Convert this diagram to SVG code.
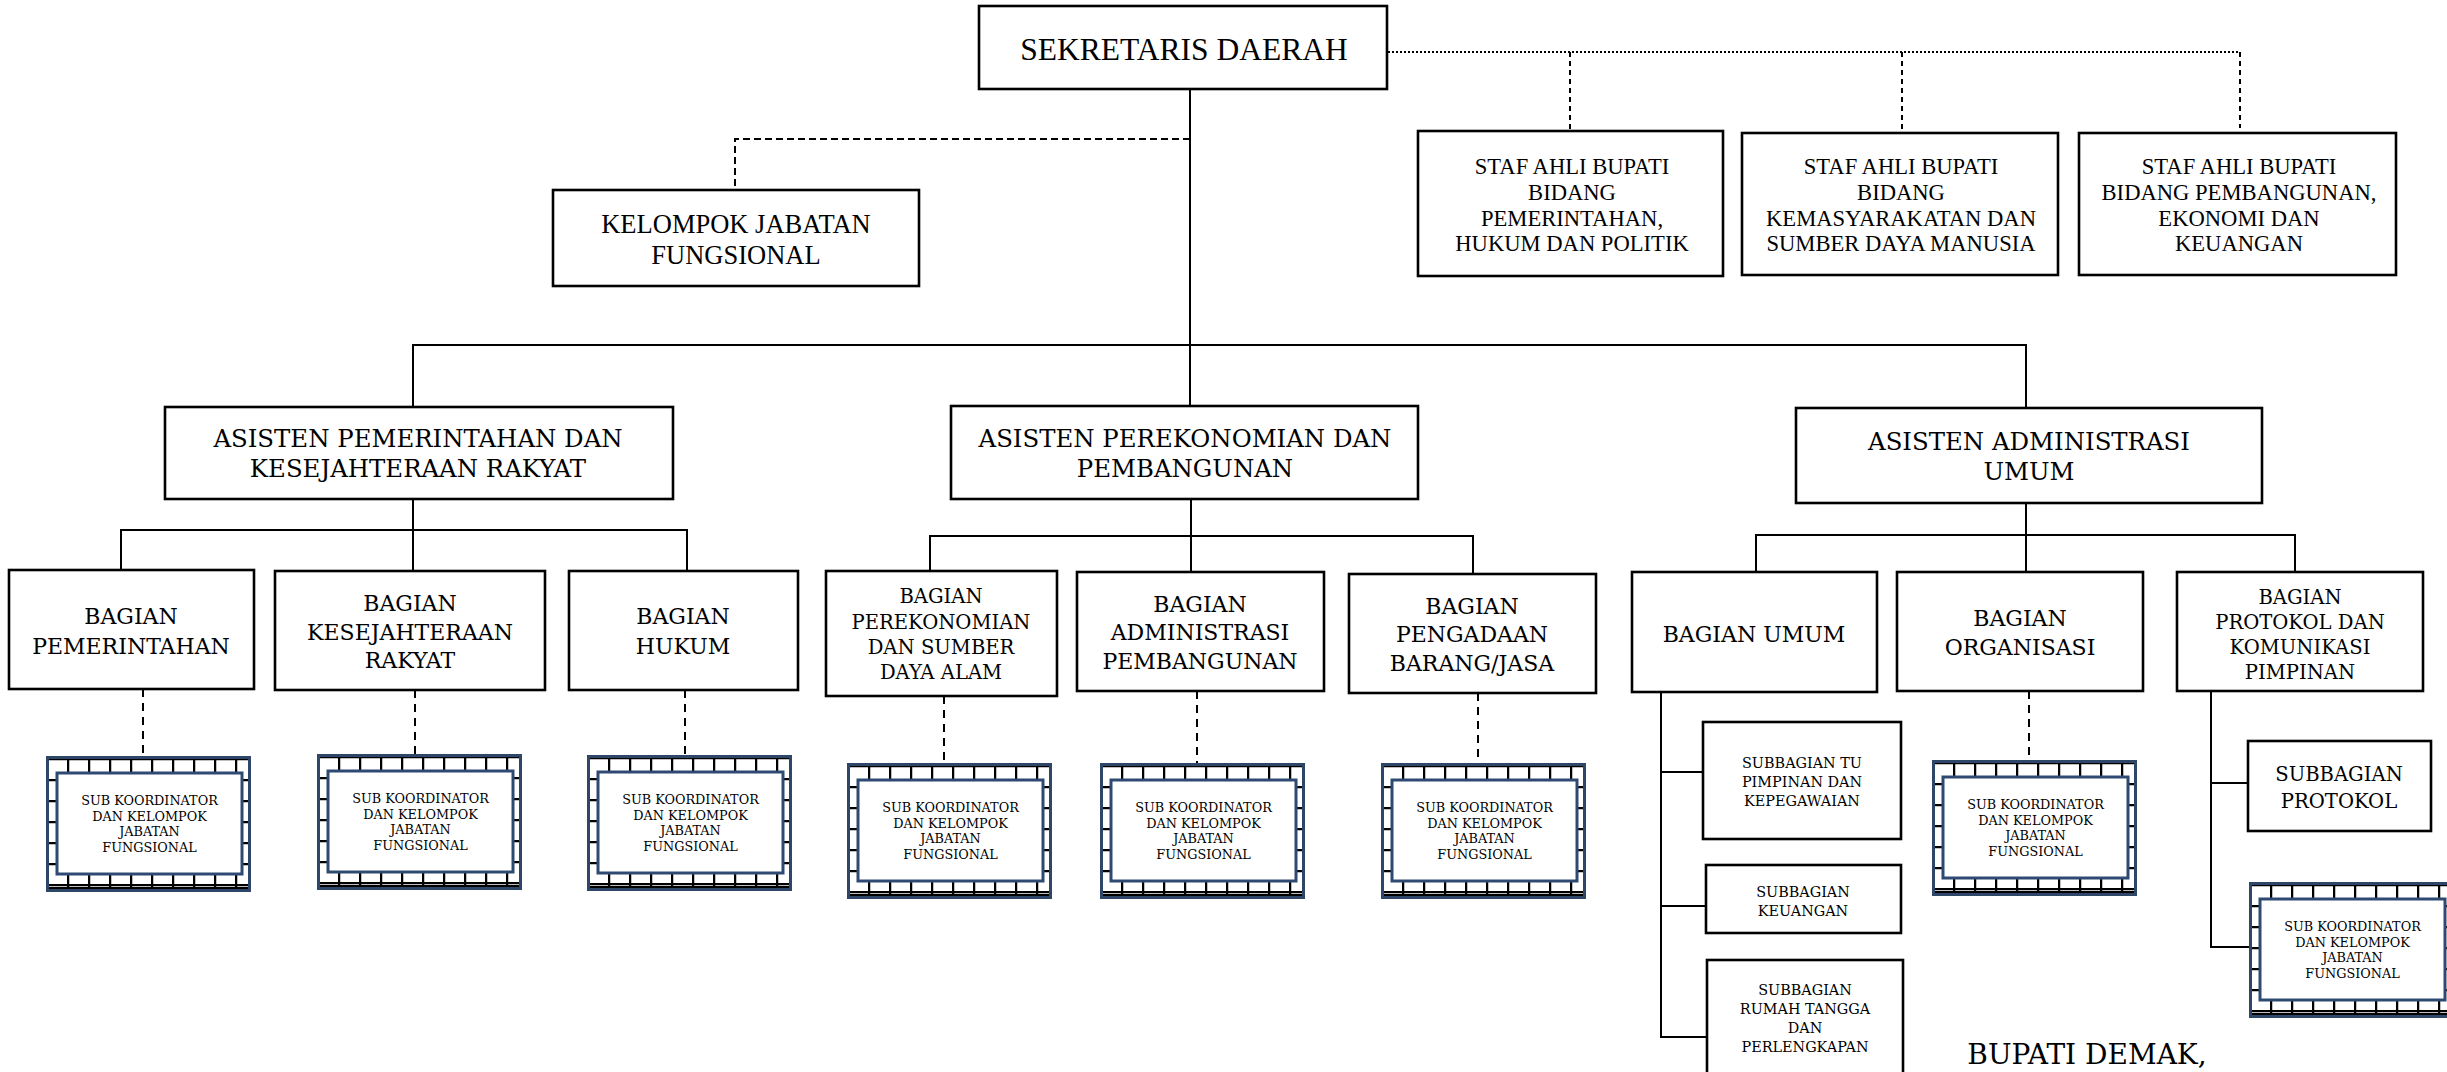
<svg xmlns="http://www.w3.org/2000/svg" xmlns:xlink="http://www.w3.org/1999/xlink" width="2447" height="1072" viewBox="0 0 2447 1072">
<style>
.box{fill:#fff;stroke:#000;stroke-width:2.6}
.ln{stroke:#000;stroke-width:2;fill:none}
.dash{stroke:#000;stroke-width:2;stroke-dasharray:8 6;fill:none}
.dash2{stroke:#000;stroke-width:2;stroke-dasharray:7 4;fill:none}
.dot{stroke:#000;stroke-width:2;stroke-dasharray:2 2;fill:none}
.vd{stroke:#000;stroke-width:2;stroke-dasharray:5 4;fill:none}
.tr{font-family:"Liberation Serif","Times New Roman",serif;text-anchor:middle;fill:#000}
.bk{font-family:"DejaVu Serif","Liberation Serif",serif;text-anchor:middle;fill:#000}
.a{font-size:24.4px}
.b{font-size:22px}
.c{font-size:19.6px}
.s{font-size:14.4px}
.k{font-size:12.8px}
</style>
<defs>
<pattern id="grid" patternUnits="userSpaceOnUse" x="0" y="2" width="21" height="21">
<path d="M1 0V21M0 1H21" stroke="#000" stroke-width="2.5" fill="none"/>
</pattern>
<g id="skframe">
<rect width="205" height="136" fill="#fff"/>
<rect width="205" height="136" fill="url(#grid)"/>
<line x1="0" y1="132" x2="205" y2="132" stroke="#000" stroke-width="2"/>
<rect x="1.5" y="1.5" width="202" height="133" fill="none" stroke="#2E4667" stroke-width="3"/>
<rect x="11" y="17" width="185" height="101" fill="#fff" stroke="#2E4A72" stroke-width="3"/>
</g>
</defs>
<rect width="2447" height="1072" fill="#fff"/>

<g id="connectors">
<line class="ln" x1="1190" y1="89" x2="1190" y2="406"/>
<polyline class="dash2" points="1190,139 735,139 735,190"/>
<line class="dot" x1="1388" y1="52" x2="2240" y2="52"/>
<line class="vd" x1="1570" y1="52" x2="1570" y2="131"/>
<line class="vd" x1="1902" y1="52" x2="1902" y2="133"/>
<line class="vd" x1="2240" y1="52" x2="2240" y2="128"/>
<polyline class="ln" points="413,407 413,345 2026,345 2026,409"/>
<line class="ln" x1="413" y1="499" x2="413" y2="571"/>
<polyline class="ln" points="121,570 121,530 687,530 687,571"/>
<line class="ln" x1="1191" y1="499" x2="1191" y2="572"/>
<polyline class="ln" points="930,571 930,536 1473,536 1473,574"/>
<line class="ln" x1="2026" y1="503" x2="2026" y2="572"/>
<polyline class="ln" points="1756,572 1756,535 2295,535 2295,572"/>
<line class="dash" x1="143" y1="689" x2="143" y2="756"/>
<line class="dash" x1="415" y1="690" x2="415" y2="754"/>
<line class="dash" x1="685" y1="690" x2="685" y2="755"/>
<line class="dash" x1="944" y1="696" x2="944" y2="763"/>
<line class="dash" x1="1197" y1="691" x2="1197" y2="763"/>
<line class="dash" x1="1478" y1="693" x2="1478" y2="763"/>
<line class="dash" x1="2029" y1="691" x2="2029" y2="760"/>
<polyline class="ln" points="1661,692 1661,1037 1707,1037"/>
<line class="ln" x1="1661" y1="772" x2="1703" y2="772"/>
<line class="ln" x1="1661" y1="906" x2="1706" y2="906"/>
<polyline class="ln" points="2211,691 2211,947 2249,947"/>
<line class="ln" x1="2211" y1="783" x2="2248" y2="783"/>
</g>

<g id="sekda">
<rect class="box" x="979" y="6" width="408" height="83"/>
<text class="tr" x="1184" y="60" font-size="31.5">SEKRETARIS DAERAH</text>
</g>

<g id="kelompok-jf">
<rect class="box" x="553" y="190" width="366" height="96"/>
<text class="tr" x="736" y="233" font-size="26.5">KELOMPOK JABATAN</text>
<text class="tr" x="736" y="264" font-size="26.5">FUNGSIONAL</text>
</g>

<g id="staf1">
<rect class="box" x="1418" y="131" width="305" height="145"/>
<text class="tr" x="1572" y="174" font-size="22.6">STAF AHLI BUPATI</text>
<text class="tr" x="1572" y="200" font-size="22.6">BIDANG</text>
<text class="tr" x="1572" y="226" font-size="22.6">PEMERINTAHAN,</text>
<text class="tr" x="1572" y="251" font-size="22.6">HUKUM DAN POLITIK</text>
</g>
<g id="staf2">
<rect class="box" x="1742" y="133" width="316" height="142"/>
<text class="tr" x="1901" y="174" font-size="22.6">STAF AHLI BUPATI</text>
<text class="tr" x="1901" y="200" font-size="22.6">BIDANG</text>
<text class="tr" x="1901" y="226" font-size="22.6">KEMASYARAKATAN DAN</text>
<text class="tr" x="1901" y="251" font-size="22.6">SUMBER DAYA MANUSIA</text>
</g>
<g id="staf3">
<rect class="box" x="2079" y="133" width="317" height="142"/>
<text class="tr" x="2239" y="174" font-size="22.6">STAF AHLI BUPATI</text>
<text class="tr" x="2239" y="200" font-size="22.6">BIDANG PEMBANGUNAN,</text>
<text class="tr" x="2239" y="226" font-size="22.6">EKONOMI DAN</text>
<text class="tr" x="2239" y="251" font-size="22.6">KEUANGAN</text>
</g>

<g id="asisten1">
<rect class="box" x="165" y="407" width="508" height="92"/>
<text class="bk a" x="418" y="447">ASISTEN PEMERINTAHAN DAN</text>
<text class="bk a" x="418" y="477">KESEJAHTERAAN RAKYAT</text>
</g>
<g id="asisten2">
<rect class="box" x="951" y="406" width="467" height="93"/>
<text class="bk a" x="1185" y="447">ASISTEN PEREKONOMIAN DAN</text>
<text class="bk a" x="1185" y="477">PEMBANGUNAN</text>
</g>
<g id="asisten3">
<rect class="box" x="1796" y="408" width="466" height="95"/>
<text class="bk a" x="2029" y="450">ASISTEN ADMINISTRASI</text>
<text class="bk a" x="2029" y="480">UMUM</text>
</g>

<g id="bag-pemerintahan">
<rect class="box" x="9" y="570" width="245" height="119"/>
<text class="bk b" x="131" y="624">BAGIAN</text>
<text class="bk b" x="131" y="654">PEMERINTAHAN</text>
</g>
<g id="bag-kesra">
<rect class="box" x="275" y="571" width="270" height="119"/>
<text class="bk b" x="410" y="611">BAGIAN</text>
<text class="bk b" x="410" y="640">KESEJAHTERAAN</text>
<text class="bk b" x="410" y="668">RAKYAT</text>
</g>
<g id="bag-hukum">
<rect class="box" x="569" y="571" width="229" height="119"/>
<text class="bk b" x="683" y="624">BAGIAN</text>
<text class="bk b" x="683" y="654">HUKUM</text>
</g>
<g id="bag-perekonomian">
<rect class="box" x="826" y="571" width="231" height="125"/>
<text class="bk c" x="941" y="603">BAGIAN</text>
<text class="bk c" x="941" y="629">PEREKONOMIAN</text>
<text class="bk c" x="941" y="654">DAN SUMBER</text>
<text class="bk c" x="941" y="679">DAYA ALAM</text>
</g>
<g id="bag-adpem">
<rect class="box" x="1077" y="572" width="247" height="119"/>
<text class="bk b" x="1200" y="612">BAGIAN</text>
<text class="bk b" x="1200" y="640">ADMINISTRASI</text>
<text class="bk b" x="1200" y="669">PEMBANGUNAN</text>
</g>
<g id="bag-pbj">
<rect class="box" x="1349" y="574" width="247" height="119"/>
<text class="bk b" x="1472" y="614">BAGIAN</text>
<text class="bk b" x="1472" y="642">PENGADAAN</text>
<text class="bk b" x="1472" y="671">BARANG/JASA</text>
</g>
<g id="bag-umum">
<rect class="box" x="1632" y="572" width="245" height="120"/>
<text class="bk b" x="1754" y="642">BAGIAN UMUM</text>
</g>
<g id="bag-organisasi">
<rect class="box" x="1897" y="572" width="246" height="119"/>
<text class="bk b" x="2020" y="626">BAGIAN</text>
<text class="bk b" x="2020" y="655">ORGANISASI</text>
</g>
<g id="bag-protokol">
<rect class="box" x="2177" y="572" width="246" height="119"/>
<text class="bk c" x="2300" y="604">BAGIAN</text>
<text class="bk c" x="2300" y="629">PROTOKOL DAN</text>
<text class="bk c" x="2300" y="654">KOMUNIKASI</text>
<text class="bk c" x="2300" y="679">PIMPINAN</text>
</g>

<g id="sub-tu">
<rect class="box" x="1703" y="722" width="198" height="117"/>
<text class="bk s" x="1802" y="768">SUBBAGIAN TU</text>
<text class="bk s" x="1802" y="787">PIMPINAN DAN</text>
<text class="bk s" x="1802" y="806">KEPEGAWAIAN</text>
</g>
<g id="sub-keuangan">
<rect class="box" x="1706" y="865" width="195" height="68"/>
<text class="bk s" x="1803" y="897">SUBBAGIAN</text>
<text class="bk s" x="1803" y="916">KEUANGAN</text>
</g>
<g id="sub-rt">
<rect class="box" x="1707" y="960" width="196" height="130"/>
<text class="bk s" x="1805" y="995">SUBBAGIAN</text>
<text class="bk s" x="1805" y="1014">RUMAH TANGGA</text>
<text class="bk s" x="1805" y="1033">DAN</text>
<text class="bk s" x="1805" y="1052">PERLENGKAPAN</text>
</g>
<g id="sub-protokol">
<rect class="box" x="2248" y="741" width="183" height="90"/>
<text class="bk c" x="2339" y="781">SUBBAGIAN</text>
<text class="bk c" x="2339" y="808">PROTOKOL</text>
</g>

<g id="sk1" transform="translate(46,756)">
<use xlink:href="#skframe" href="#skframe"/>
<text class="bk k" x="103.5" y="49">SUB KOORDINATOR</text>
<text class="bk k" x="103.5" y="64.5">DAN KELOMPOK</text>
<text class="bk k" x="103.5" y="80">JABATAN</text>
<text class="bk k" x="103.5" y="95.5">FUNGSIONAL</text>
</g>
<g id="sk2" transform="translate(317,754)">
<use xlink:href="#skframe" href="#skframe"/>
<text class="bk k" x="103.5" y="49">SUB KOORDINATOR</text>
<text class="bk k" x="103.5" y="64.5">DAN KELOMPOK</text>
<text class="bk k" x="103.5" y="80">JABATAN</text>
<text class="bk k" x="103.5" y="95.5">FUNGSIONAL</text>
</g>
<g id="sk3" transform="translate(587,755)">
<use xlink:href="#skframe" href="#skframe"/>
<text class="bk k" x="103.5" y="49">SUB KOORDINATOR</text>
<text class="bk k" x="103.5" y="64.5">DAN KELOMPOK</text>
<text class="bk k" x="103.5" y="80">JABATAN</text>
<text class="bk k" x="103.5" y="95.5">FUNGSIONAL</text>
</g>
<g id="sk4" transform="translate(847,763)">
<use xlink:href="#skframe" href="#skframe"/>
<text class="bk k" x="103.5" y="49">SUB KOORDINATOR</text>
<text class="bk k" x="103.5" y="64.5">DAN KELOMPOK</text>
<text class="bk k" x="103.5" y="80">JABATAN</text>
<text class="bk k" x="103.5" y="95.5">FUNGSIONAL</text>
</g>
<g id="sk5" transform="translate(1100,763)">
<use xlink:href="#skframe" href="#skframe"/>
<text class="bk k" x="103.5" y="49">SUB KOORDINATOR</text>
<text class="bk k" x="103.5" y="64.5">DAN KELOMPOK</text>
<text class="bk k" x="103.5" y="80">JABATAN</text>
<text class="bk k" x="103.5" y="95.5">FUNGSIONAL</text>
</g>
<g id="sk6" transform="translate(1381,763)">
<use xlink:href="#skframe" href="#skframe"/>
<text class="bk k" x="103.5" y="49">SUB KOORDINATOR</text>
<text class="bk k" x="103.5" y="64.5">DAN KELOMPOK</text>
<text class="bk k" x="103.5" y="80">JABATAN</text>
<text class="bk k" x="103.5" y="95.5">FUNGSIONAL</text>
</g>
<g id="sk7" transform="translate(1932,760)">
<use xlink:href="#skframe" href="#skframe"/>
<text class="bk k" x="103.5" y="49">SUB KOORDINATOR</text>
<text class="bk k" x="103.5" y="64.5">DAN KELOMPOK</text>
<text class="bk k" x="103.5" y="80">JABATAN</text>
<text class="bk k" x="103.5" y="95.5">FUNGSIONAL</text>
</g>
<g id="sk8" transform="translate(2249,882)">
<use xlink:href="#skframe" href="#skframe"/>
<text class="bk k" x="103.5" y="49">SUB KOORDINATOR</text>
<text class="bk k" x="103.5" y="64.5">DAN KELOMPOK</text>
<text class="bk k" x="103.5" y="80">JABATAN</text>
<text class="bk k" x="103.5" y="95.5">FUNGSIONAL</text>
</g>

<g id="bupati">
<text class="bk" x="2087" y="1064" font-size="28">BUPATI DEMAK,</text>
</g>
</svg>
